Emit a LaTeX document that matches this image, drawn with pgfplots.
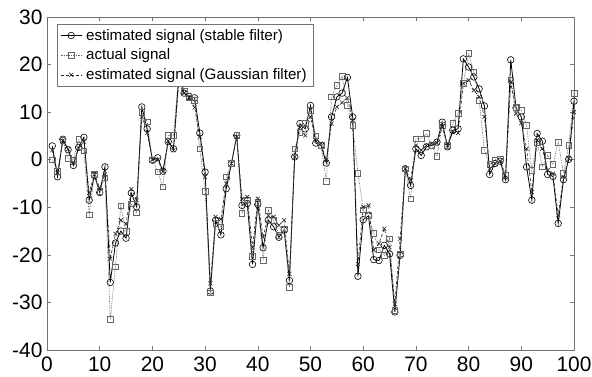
\documentclass[border=0pt]{standalone}
\usepackage{fontspec}
\setmainfont{Liberation Sans}
\usepackage{pgfplots}
\pgfplotsset{compat=1.18}
\usepackage{pgfplotstable}

\pgfplotstableread{
x stable actual gauss
1 2.9 0 2
2 -3.6 -2.4 -2.8
3 4.3 4.1 4
4 2.1 0.3 2.2
5 -1.2 0 -0.7
6 2.6 4.3 2.4
7 4.7 1.9 3.8
8 -8.5 -11.6 -6.9
9 -3.3 -3.1 -3.1
10 -6.9 -6.6 -5.9
11 -1.5 -3.8 -3.1
12 -25.8 -33.6 -20.8
13 -17.5 -22.5 -15.6
14 -15 -9.7 -12.7
15 -16.5 -15 -13.5
16 -7 -9.3 -6.2
17 -9.9 -11.2 -8.5
18 11.1 10 9
19 6.5 8 5.6
20 -0.1 0 0
21 0.4 -2.5 0
22 -2.4 -5.7 -2.5
23 3.8 5.1 4
24 2.3 5.1 2
25 17.5 18 16
26 14 14.5 14
27 13.3 13 13
28 13 12.5 11
29 5.6 2.3 4.8
30 -2.6 -6.6 -3.6
31 -27.6 -28 -26
32 -12.7 -13.4 -12
33 -15.8 -14.1 -12.5
34 -6.1 -3.6 -5
35 -0.8 -0.8 -0.8
36 5.1 5.1 4.8
37 -9.6 -11.3 -8.2
38 -9.2 -8.4 -7.8
39 -22 -20.3 -18.4
40 -9.4 -8.9 -8.2
41 -18.5 -21.2 -16.3
42 -12.7 -10.6 -11.7
43 -14.1 -12.7 -12
44 -16.3 -15.9 -13.8
45 -14.8 -14.5 -12.7
46 -25.4 -26.8 -24
47 0.6 2.3 0.6
48 7.6 5.8 6.9
49 6.5 7.6 5.1
50 11.4 10.4 9
51 3.5 5 4
52 3 3 3.4
53 -0.7 -4.5 -0.1
54 9 13.2 7.6
55 13.2 15.6 11.1
56 14 17.5 12
57 17.3 11.5 13
58 9 7.2 8.3
59 -24.5 -2.8 -21.9
60 -12.6 -10.5 -9.9
61 -11.8 -11.7 -9.6
62 -21 -15.5 -19
63 -21.2 -18.9 -17.6
64 -18 -20.1 -14.5
65 -19.8 -16.6 -18.4
66 -32 -31.7 -30.3
67 -20.1 -19.8 -16.6
68 -1.9 -1.9 -1.9
69 -5.4 -8.2 -4.3
70 2.3 4.4 3
71 0.9 4.4 2
72 2.7 5.5 3
73 3 3 3.4
74 3.7 0.7 3.5
75 7.9 7.2 6.9
76 2.7 3 3
77 6.2 7.6 5.8
78 6.5 9.8 5.6
79 21.2 16.1 16
80 19.5 22.4 16.7
81 17.4 18.4 14.6
82 14.9 12.5 13.2
83 11.3 2 9
84 -3.1 -1 -1.9
85 -0.8 0 -0.8
86 -0.3 0.2 -0.3
87 -4.2 -3.3 -3.8
88 21 16.8 16.3
89 10.9 11 9.7
90 9 10.4 7.7
91 -1.5 7.2 2.3
92 -8.5 -2.2 -6.8
93 5.5 3.7 4.1
94 3.9 -1.5 2.3
95 -3.1 0.9 -2.2
96 -3.5 -1 -2.9
97 -13.4 3.7 -11.7
98 -4.2 -2.8 -3.6
99 0.1 3 0.2
100 12.3 14 10
}\datatable

\begin{document}
\begin{tikzpicture}
\begin{axis}[
  scale only axis,
  width=527bp, height=333bp,
  xmin=0, xmax=100, ymin=-40, ymax=30,
  xtick={0,10,...,100},
  ytick={-40,-30,...,30},
  tick align=inside,
  major tick length=4bp,
  axis line style={draw=black!55, line width=0.6pt},
  tick style={draw=black!55, line width=0.5pt},
  tick label style={font=\fontsize{21}{24}\selectfont},
  /pgf/number format/assume math mode=true,
  xticklabel style={yshift=-3bp},
  yticklabel style={xshift=-1bp},
  legend cell align=left,
  legend style={
    at={(0.019,0.979)}, anchor=north west,
    draw=black!55, line width=0.6pt,
    font=\fontsize{15.2}{18}\selectfont,
    inner xsep=3bp, inner ysep=3bp,
    row sep=3.2bp,
    nodes={inner xsep=4bp},
  },
  legend image code/.code={
    \draw[mark repeat=2,mark phase=2,#1] plot coordinates {(0cm,0cm)(0.37cm,0cm)(0.74cm,0cm)};
  },
]
\addplot[black, line width=0.8pt, mark=o, mark size=3.3bp, mark options={solid, line width=0.6pt}]
  table[x=x, y=stable] {\datatable};
\addlegendentry{estimated signal (stable filter)}
\addplot[black!60, densely dotted, line width=0.7pt, mark=square, mark size=2.8bp, mark options={solid, line width=0.6pt}]
  table[x=x, y=actual] {\datatable};
\addlegendentry{actual signal}
\addplot[black!85, densely dashed, line width=0.6pt, mark=x, mark size=2.8bp, mark options={solid, line width=0.6pt}]
  table[x=x, y=gauss] {\datatable};
\addlegendentry{estimated signal (Gaussian filter)}
\coordinate (sw) at (rel axis cs:0,0);
\coordinate (ne) at (rel axis cs:1,1);
\end{axis}
\pgfresetboundingbox
\path ([shift={(-47bp,-27bp)}]sw) rectangle ([shift={(18bp,17bp)}]ne);
\end{tikzpicture}
\end{document}
